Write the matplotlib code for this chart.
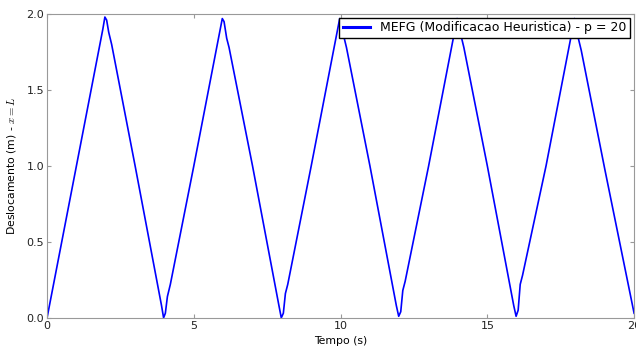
import matplotlib.pyplot as plt

# tempo (s) e deslocamento (m)
tempo = [0.0, 1.0, 1.9, 1.97, 2.03, 2.1, 2.2, 3.0, 3.9, 3.97, 4.03, 4.1, 4.2, 5.0,
         5.9, 5.97, 6.03, 6.12, 6.2, 7.0, 7.9, 7.98, 8.05, 8.12, 8.2, 9.0, 9.9, 9.97,
         10.03, 10.1, 10.2, 11.0, 11.9, 11.98, 12.05, 12.12, 12.2, 13.0, 13.9, 13.97,
         14.03, 14.1, 14.2, 15.0, 15.9, 15.98, 16.05, 16.12, 16.2, 17.0, 17.9, 17.97,
         18.03, 18.1, 18.2, 19.0, 20.0]
desloc = [0.0, 1.0, 1.9, 1.98, 1.96, 1.88, 1.8, 1.0, 0.08, 0.0, 0.03, 0.14, 0.22,
          1.0, 1.9, 1.97, 1.95, 1.84, 1.78, 1.0, 0.08, 0.0, 0.03, 0.16, 0.22, 1.0,
          1.9, 1.97, 1.95, 1.86, 1.78, 1.0, 0.08, 0.01, 0.04, 0.18, 0.24, 1.0, 1.9,
          1.97, 1.95, 1.86, 1.78, 1.0, 0.08, 0.01, 0.05, 0.22, 0.28, 1.0, 1.9, 1.97,
          1.95, 1.84, 1.76, 0.98, 0.03]

plt.rcParams['mathtext.fontset'] = 'cm'

fig, ax = plt.subplots(figsize=(6.36, 3.5), dpi=100)
fig.subplots_adjust(left=0.074, right=0.997, top=0.96, bottom=0.092)

ax.plot(tempo, desloc, color='blue', linewidth=1.2,
        label='MEFG (Modificacao Heuristica) - p = 20')

ax.set_xlim(0, 20)
ax.set_ylim(0, 2.0)
ax.set_xticks([0, 5, 10, 15, 20])
ax.set_yticks([0.0, 0.5, 1.0, 1.5, 2.0])
ax.set_yticklabels(['0.0', '0.5', '1.0', '1.5', '2.0'])
ax.tick_params(direction='in', top=True, right=True, labelsize=8,
               length=3, color='#999999', labelcolor='#222222', pad=2)
for s in ax.spines.values():
    s.set_color('#999999')

ax.set_xlabel('Tempo (s)', fontsize=7.8, labelpad=4)
ax.set_ylabel(r'Deslocamento (m) - $x = L$', fontsize=7.8, labelpad=6)

leg = ax.legend(loc='upper right', fontsize=9, fancybox=False,
                handlelength=2.2, borderaxespad=0.3, borderpad=0.3)
leg.get_frame().set_edgecolor('black')
leg.get_frame().set_alpha(1)
for line in leg.get_lines():
    line.set_linewidth(2.2)

fig.savefig('out.png', dpi=100)
